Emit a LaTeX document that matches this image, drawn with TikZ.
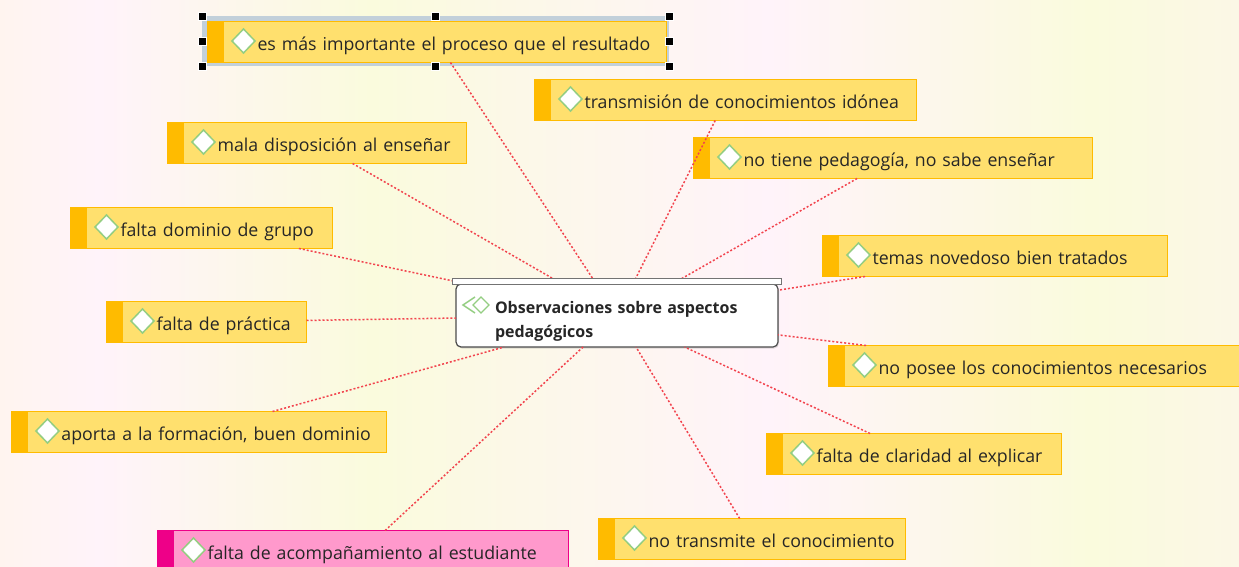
\documentclass[tikz,border=0pt]{standalone}
\usepackage{fontspec}
\usepackage{xcolor}
\usetikzlibrary{shadows}
\setsansfont{Open Sans}

\definecolor{ideafill}{HTML}{FFE06E}
\definecolor{ideabar}{HTML}{FFBB00}
\definecolor{pinkfill}{HTML}{FF99CC}
\definecolor{pinkbar}{HTML}{EE0088}
\definecolor{framefill}{HTML}{C2D0DA}
\definecolor{leafgreen}{HTML}{94CE82}
\definecolor{linkred}{HTML}{F2444E}
\definecolor{paperpink}{HTML}{FFF3FA}
\definecolor{paperyellow}{HTML}{FAFBDD}
\definecolor{paperedge}{HTML}{FFF4EF}
\definecolor{papersand}{HTML}{FBF7E6}

\pgfdeclarehorizontalshading{paper}{100bp}{
  color(0bp)=(paperedge);
  color(25bp)=(paperedge);
  color(29bp)=(paperpink);
  color(40bp)=(paperyellow);
  color(56bp)=(paperpink);
  color(69bp)=(paperyellow);
  color(75bp)=(papersand);
  color(100bp)=(papersand)
}

\tikzset{
  ideabox/.style={
    anchor=north west, rectangle, draw=#1bar, fill=#1fill, line width=1.3pt,
    xshift=.5pt, yshift=-.5pt,
    minimum height=41pt, inner xsep=8pt, inner ysep=0pt, outer sep=0pt,
    text height=19pt, text depth=2pt,
    font=\sffamily\fontsize{17.75}{20}\selectfont, text=black!85,
    path picture={
      \fill[#1bar] (path picture bounding box.north west) rectangle ++(16pt,-42pt);
      \path[draw=leafgreen, fill=white, line width=1.5pt]
        ([xshift=36pt,yshift=1pt]path picture bounding box.west) ++(-11.5pt,0pt) -- ++(11.5pt,12pt)
        -- ++(11.5pt,-12pt) -- ++(-11.5pt,-12pt) -- cycle;
    },
    execute at begin node={\hspace*{42pt}}
  },
  corebox/.style={
    anchor=north west, rectangle, draw=black!70, fill=white, line width=1.2pt,
    rounded corners=5pt, minimum width=322pt, minimum height=63pt,
    text width=244pt, inner xsep=39pt, inner ysep=0pt, outer sep=0pt, align=left,
    text height=12pt, text depth=17pt,
    font=\sffamily\fontsize{16}{24}\selectfont\bfseries, text=black!85,
    drop shadow={opacity=.25, shadow xshift=1pt, shadow yshift=-1.5pt}
  },
  corecap/.style={
    anchor=north west, rectangle, draw=black!55, fill=white, line width=1pt,
    minimum width=329pt, minimum height=6pt, inner sep=0pt, outer sep=0pt
  },
  handle/.style={rectangle, draw=white, fill=black, line width=.5pt,
    minimum size=8pt, inner sep=0pt},
  link/.style={linkred, line width=1.5pt, dash pattern=on 2pt off 2pt}
}

\begin{document}
\begin{tikzpicture}[x=1pt,y=-1pt]
  \useasboundingbox (0,0) rectangle (1239,567);
  \shade[shading=paper] (0,0) rectangle (1239,567);

  \node[anchor=north west, rectangle, fill=framefill, minimum width=467pt,
    minimum height=50pt, outer sep=0pt] (frame) at (202,16) {};

  % ideas
  \node[ideabox=idea, minimum width=459pt, text width=443pt] (proceso) at (207,21) {es más importante el proceso que el resultado};
  \node[ideabox=idea, minimum width=382pt, text width=366pt] (transmision) at (534,79) {transmisión de conocimientos idónea};
  \node[ideabox=idea, minimum width=399pt, text width=383pt] (pedagogia) at (693,137) {no tiene pedagogía, no sabe enseñar};
  \node[ideabox=idea, minimum width=299pt, text width=283pt] (disposicion) at (167,122) {mala disposición al enseñar};
  \node[ideabox=idea, minimum width=262pt, text width=246pt] (dominio) at (70,207) {falta dominio de grupo};
  \node[ideabox=idea, minimum width=345pt, text width=329pt] (temas) at (822,235) {temas novedoso bien tratados};
  \node[ideabox=idea, minimum width=200pt, text width=184pt] (practica) at (106,301) {falta de práctica};
  \node[ideabox=idea, minimum width=414pt, text width=398pt] (conocimientos) at (828,345) {no posee los conocimientos necesarios};
  \node[ideabox=idea, minimum width=375pt, text width=359pt] (formacion) at (11,411) {aporta a la formación, buen dominio};
  \node[ideabox=idea, minimum width=295pt, text width=279pt] (claridad) at (766,433) {falta de claridad al explicar};
  \node[ideabox=idea, minimum width=307pt, text width=291pt] (transmite) at (598,518) {no transmite el conocimiento};
  \node[ideabox=pink, minimum width=411pt, text width=395pt] (acompana) at (157,530) {falta de acompañamiento al estudiante};

  \node[corebox] (core) at (456,284) {Observaciones sobre aspectos\\pedagógicos};
  \draw[leafgreen, line width=1.4pt] (475,297) -- (463,305) -- (475,313);
  \draw[leafgreen, line width=1.4pt] (481,297) -- (473,305) -- (481,313) -- (489,305) -- cycle;

  \draw[link] (proceso) -- (core);
  \draw[link] (transmision) -- (core);
  \draw[link] (pedagogia) -- (core);
  \draw[link] (disposicion) -- (core);
  \draw[link] (dominio) -- (core);
  \draw[link] (temas) -- (core);
  \draw[link] (practica) -- (core);
  \draw[link] (conocimientos) -- (core);
  \draw[link] (formacion) -- (core);
  \draw[link] (claridad) -- (core);
  \draw[link] (transmite) -- (core);
  \draw[link] (acompana) -- (core);

  \node[corecap] (cap) at (452,278) {};

  \foreach \a in {north west,north,north east,west,east,south west,south,south east}
    \node[handle] (handle \a) at (frame.\a) {};
\end{tikzpicture}
\end{document}
